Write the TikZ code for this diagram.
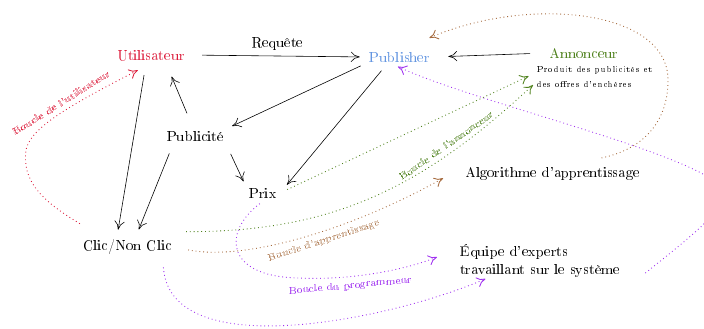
\documentclass[tikz,border=0pt]{standalone}
\usepackage[T1]{fontenc}
\usetikzlibrary{arrows.meta}

\definecolor{userred}{RGB}{220,30,60}
\definecolor{pubblue}{RGB}{100,150,225}
\definecolor{annongreen}{RGB}{80,130,30}
\definecolor{apprbrown}{RGB}{165,105,60}
\definecolor{progviolet}{RGB}{160,50,240}

\begin{document}
\begin{tikzpicture}[x=0.02408cm,y=-0.02408cm,
    >={Computer Modern Rightarrow[length=6pt,width=7pt]},
    every node/.style={inner sep=2pt},
    boucle/.style={dotted, line width=0.6pt, ->},
    lbl/.style={font=\scriptsize, sloped, inner sep=3pt}]
  \useasboundingbox (0,0) rectangle (704,328);

  % acteurs
  \node[text=userred] (user) at (151,55) {Utilisateur};
  \node[text=pubblue] (publisher) at (400,57) {Publisher};
  \node[text=annongreen] (annonceur) at (584,53) {Annonceur};
  \node[anchor=west, font=\fontsize{6.4}{8}\selectfont, align=left] (produit) at (533,77)
    {Produit des publicités et\\[2.3pt]des offres d'enchères};
  \node (pub) at (195.5,136) {Publicité};
  \node (prix) at (263,193) {Prix};
  \node (clic) at (127.5,247) {Clic/Non Clic};
  \node (algo) at (552.5,173.4) {Algorithme d'apprentissage};
  \node[anchor=west, align=left] (equipe) at (457,260.7)
    {Équipe d'experts\\travaillant sur le système};

  % flux principaux
  \path[->]
    (user.east) edge[shorten <=9.6pt, shorten >=4.8pt]
        node[above, yshift=2pt] (req) {Requête} (publisher.west)
    (annonceur.west) edge[shorten <=11pt, shorten >=10.3pt] (publisher.east)
    ([xshift=-3.4pt]user.south) edge[shorten <=8.2pt, shorten >=4.7pt] ([xshift=-7.2pt]clic.north)
    ([xshift=-15.4pt]pub.south) edge[shorten <=6.8pt, shorten >=5.2pt] ([xshift=5.8pt]clic.north)
    ([xshift=-1.7pt]pub.north) edge[shorten <=10.7pt, shorten >=9.9pt] ([xshift=10.3pt]user.south)
    ([xshift=-26pt]publisher.south) edge[shorten <=1pt] ([xshift=3.4pt,yshift=6.8pt]pub.east)
    ([xshift=21pt]pub.south) edge[shorten <=7.3pt, shorten >=2.5pt] ([xshift=-12.3pt]prix.north)
    ([xshift=-9.6pt]publisher.south) edge[shorten <=4.8pt] ([xshift=4.8pt]prix.north east);

  % boucle de l'utilisateur
  \draw[boucle, userred] ([yshift=16pt]clic.west)
    .. controls (40,200) and (22,180) .. (26,150)
    .. controls (30,130) and (60,110) .. ([xshift=16.4pt,yshift=-4.8pt]user.south west)
    node[lbl, above, pos=0.6, text=userred] (lbluser) {Boucle de l'utilisateur};

  % boucle de l'annonceur
  \draw[boucle, annongreen, shorten <=5.5pt, shorten >=3.4pt]
    (prix.east) -- ([yshift=2pt]produit.west);
  \draw[boucle, annongreen] ([xshift=7.5pt,yshift=3.3pt]clic.north east)
    .. controls (330,232) and (420,190) .. ([yshift=-5.5pt]produit.west)
    node[lbl, above, pos=0.75, text=annongreen] (lblannon) {Boucle de l'annonceur};

  % boucle d'apprentissage
  \draw[boucle, apprbrown] ([xshift=8.9pt,yshift=-2pt]clic.east)
    .. controls (250,262) and (360,225) .. ([xshift=-13pt,yshift=-3.3pt]algo.west)
    node[lbl, below, pos=0.55, text=apprbrown!85] (lblappr) {Boucle d'apprentissage};
  \draw[boucle, apprbrown] ([xshift=33.6pt,yshift=4pt]algo.north)
    .. controls (640,150) and (668,125) .. (668,80)
    .. controls (668,10) and (530,-5) .. ([xshift=-2.7pt,yshift=7.5pt]publisher.north east);

  % boucle du programmeur
  \draw[boucle, progviolet, shorten <=2.7pt] (prix.south)
    .. controls (225,230) and (225,270) .. (283,277)
    .. controls (350,283) and (410,268) .. ([xshift=-13.7pt,yshift=2.5pt]equipe.west)
    node[lbl, below, pos=0.35, text=progviolet] (lblprog) {Boucle du programmeur};
  \draw[boucle, progviolet] ([xshift=-8pt,yshift=-6.8pt]clic.south east)
    .. controls (170,365) and (390,320) .. ([xshift=19.5pt,yshift=1pt]equipe.south west);
  \draw[boucle, progviolet] ([xshift=15pt,yshift=-8.5pt]equipe.east)
    .. controls (680,245) and (720,215) .. (725,195)
    .. controls (725,160) and (480,105) .. ([xshift=-1.4pt,yshift=-1pt]publisher.south);
\end{tikzpicture}
\end{document}
